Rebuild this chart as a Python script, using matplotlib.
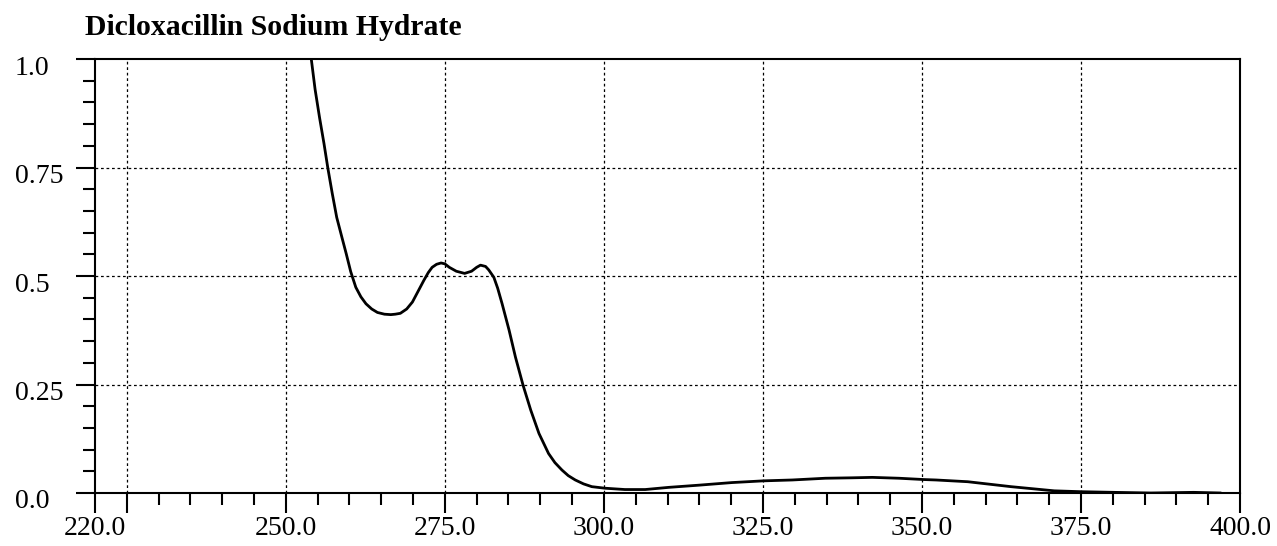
import matplotlib
matplotlib.use("Agg")
import matplotlib.pyplot as plt
from matplotlib.ticker import FixedLocator, MultipleLocator
from matplotlib.transforms import ScaledTranslation

title = "Dicloxacillin Sodium Hydrate"

wavelength = [254.0, 254.6, 255.3, 256.0, 256.6, 257.3, 258.0, 258.8, 259.5, 260.2,
              261.0, 261.8, 262.6, 263.5, 264.4, 265.5, 266.5, 267.2, 268.0, 269.0,
              269.9, 270.8, 271.7, 272.4, 273.0, 273.7, 274.4, 275.0, 275.7, 276.8,
              278.1, 279.2, 280.0, 280.6, 281.4, 281.9, 282.7, 283.3, 284.0, 285.1,
              286.1, 287.3, 288.5, 289.8, 291.3, 292.3, 293.4, 294.4, 295.5, 296.8,
              298.1, 300.2, 303.3, 306.5, 310.2, 314.9, 320.1, 325.1, 329.6, 334.8,
              339.0, 342.2, 346.4, 350.3, 352.2, 357.2, 364.0, 370.8, 375.0, 380.2,
              386.0, 392.7, 397.0]
absorbance = [1.000, 0.930, 0.865, 0.805, 0.749, 0.690, 0.635, 0.590, 0.551, 0.510,
              0.474, 0.452, 0.436, 0.424, 0.416, 0.412, 0.411, 0.412, 0.414, 0.424,
              0.440, 0.465, 0.490, 0.508, 0.520, 0.527, 0.530, 0.528, 0.520, 0.511,
              0.506, 0.511, 0.520, 0.525, 0.522, 0.514, 0.497, 0.472, 0.436, 0.375,
              0.313, 0.248, 0.191, 0.137, 0.091, 0.070, 0.053, 0.040, 0.030, 0.021,
              0.0146, 0.011, 0.008, 0.008, 0.013, 0.018, 0.024, 0.028, 0.030, 0.034,
              0.035, 0.036, 0.034, 0.031, 0.030, 0.026, 0.0146, 0.005, 0.003, 0.0015,
              0.000, 0.0015, 0.000]

x_major = [220, 225, 250, 275, 300, 325, 350, 375, 400]
x_labels = ["220.0", "", "250.0", "275.0", "300.0", "325.0", "350.0", "375.0", "400.0"]
x_grid = [225, 250, 275, 300, 325, 350, 375]
y_major = [0.0, 0.25, 0.5, 0.75, 1.0]
y_labels = ["0.0", "0.25", "0.5", "0.75", "1.0"]
y_grid = [0.25, 0.5, 0.75]

serif = ["Liberation Serif", "DejaVu Serif"]

fig = plt.figure(figsize=(12.77, 5.46), dpi=100)
ax = fig.add_axes([95 / 1277, 1 - 493 / 546, (1240 - 95) / 1277, (493 - 59) / 546])

ax.plot(wavelength, absorbance, color="black", lw=2.0,
        solid_joinstyle="round", solid_capstyle="round")

ax.set_xlim(220, 400)
ax.set_ylim(0, 1.0)

for g in x_grid:
    ax.axvline(g, color="black", lw=0.9, ls=(0, (2.2, 2.2)), zorder=0)
for g in y_grid:
    ax.axhline(g, color="black", lw=0.9, ls=(0, (2.2, 2.2)), zorder=0)

ax.xaxis.set_major_locator(FixedLocator(x_major))
ax.xaxis.set_minor_locator(MultipleLocator(5))
ax.set_xticklabels(x_labels, fontfamily=serif, fontsize=20)
ax.yaxis.set_major_locator(FixedLocator(y_major))
ax.yaxis.set_minor_locator(MultipleLocator(0.05))
ax.set_yticklabels(y_labels, fontfamily=serif, fontsize=20)

ax.tick_params(axis="both", which="major", direction="out", width=1.5, color="black")
ax.tick_params(axis="both", which="minor", direction="out", width=1.5, color="black")
ax.tick_params(axis="x", which="major", length=14.4, pad=2)
ax.tick_params(axis="x", which="minor", length=8.6)
ax.tick_params(axis="y", which="major", length=13.7, pad=44)
ax.tick_params(axis="y", which="minor", length=8.6)
ax.tick_params(top=False, right=False, which="both")

for lab in ax.get_yticklabels():
    lab.set_horizontalalignment("left")
    lab.set_transform(lab.get_transform() + ScaledTranslation(0, -6 / 100, fig.dpi_scale_trans))

for s in ax.spines.values():
    s.set_linewidth(1.5)
    s.set_color("black")

fig.text(85 / 1277, 1 - 35 / 546, title, fontfamily=serif, fontweight="bold",
         fontsize=21.4, ha="left", va="baseline")

fig.savefig("out.png", dpi=100, facecolor="white")
